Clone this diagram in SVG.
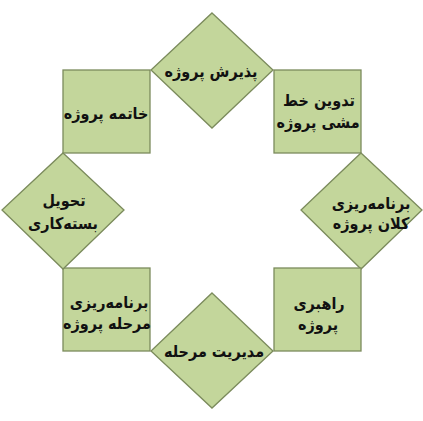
<svg xmlns="http://www.w3.org/2000/svg" width="423" height="421" viewBox="0 0 423 421">
<style>
.s{fill:#c3d69b;stroke:#7b8b5c;stroke-width:1.3}
.t{font-family:"DejaVu Sans Condensed","DejaVu Sans",sans-serif;font-weight:bold;font-size:16px;fill:#111111;text-anchor:middle;direction:rtl}
</style>
<rect width="423" height="421" fill="#ffffff"/>
<g id="n1">
<polygon class="s" points="212,13 273,70 212,128 151,70"/>
<text class="t" x="211" y="77">پذیرش پروژه</text>
</g>
<g id="n2">
<rect class="s" x="274" y="70" width="87" height="83"/>
<text class="t" x="319" y="106">تدوین خط</text>
<text class="t" x="318" y="128">مشی پروژه</text>
</g>
<g id="n3">
<polygon class="s" points="361,153 422,210 361,269 301,210"/>
<text class="t" x="371" y="209">برنامه‌ریزی</text>
<text class="t" x="371" y="229">کلان پروژه</text>
</g>
<g id="n4">
<rect class="s" x="274" y="268" width="87" height="83"/>
<text class="t" x="319" y="309">راهبری</text>
<text class="t" x="318" y="330">پروژه</text>
</g>
<g id="n5">
<polygon class="s" points="212,293 273,351 212,408 151,351"/>
<text class="t" x="214" y="357">مدیریت مرحله</text>
</g>
<g id="n6">
<rect class="s" x="63" y="268" width="87" height="83"/>
<text class="t" x="109" y="308">برنامه‌ریزی</text>
<text class="t" x="107" y="329">مرحله پروژه</text>
</g>
<g id="n7">
<polygon class="s" points="63,153 124,210 63,269 2,210"/>
<text class="t" x="64" y="206">تحویل</text>
<text class="t" x="63" y="229">بسته‌کاری</text>
</g>
<g id="n8">
<rect class="s" x="63" y="70" width="87" height="83"/>
<text class="t" x="106" y="119">خاتمه پروژه</text>
</g>
<g id="connectors"></g>
</svg>
